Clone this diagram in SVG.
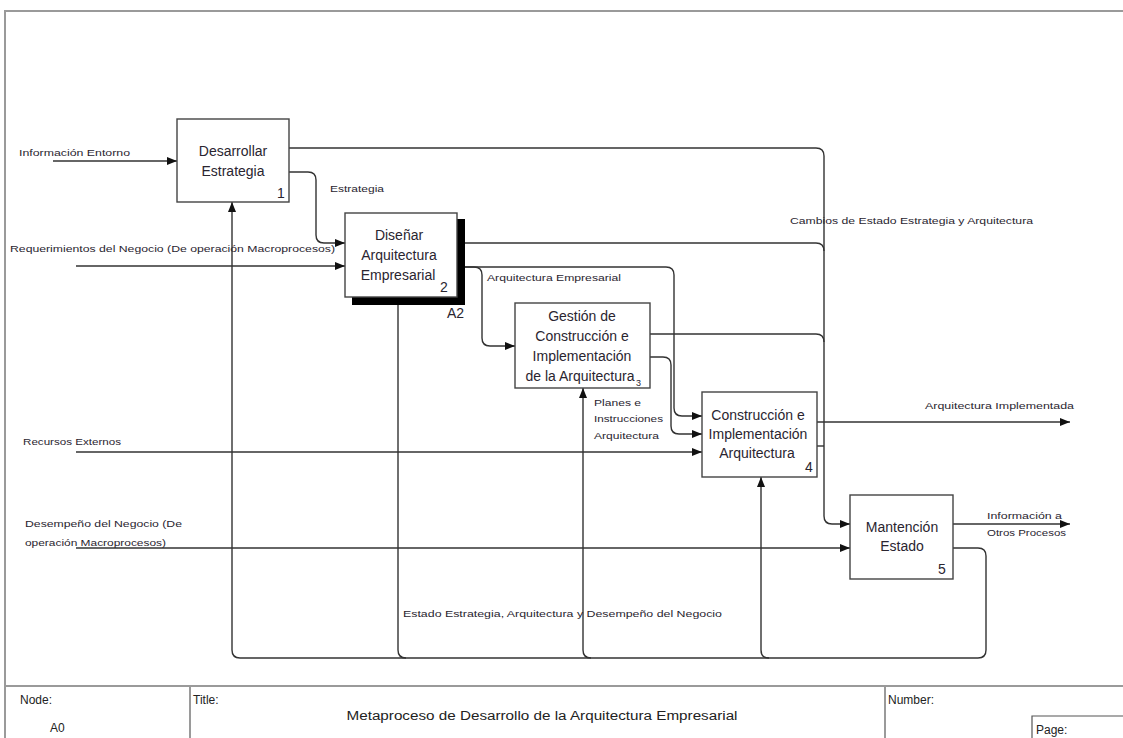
<svg xmlns="http://www.w3.org/2000/svg" width="1123" height="738" viewBox="0 0 1123 738">
  <defs>
    <marker id="arrow" viewBox="0 0 10 8" refX="10" refY="4" markerWidth="10" markerHeight="8" markerUnits="userSpaceOnUse" orient="auto">
      <path d="M0,0 L10,4 L0,8 Z" fill="#111"/>
    </marker>
    <style>
      .frame { fill: none; stroke: #9a9a9a; stroke-width: 2; }
      .box { fill: #fff; stroke: #444; stroke-width: 1.4; }
      .shadow { fill: #000; }
      .label { font-family: "Liberation Sans", Arial, sans-serif; font-size: 14px; fill: #2a2530; text-anchor: middle; }
      .num { font-family: "Liberation Sans", Arial, sans-serif; font-size: 14px; fill: #2a2530; }
      .small { font-family: "Liberation Sans", Arial, sans-serif; font-size: 9.5px; fill: #2a2530; }
      .tb { font-family: "Liberation Sans", Arial, sans-serif; font-size: 12px; fill: #222; }
      .conn { fill: none; stroke: #333; stroke-width: 1.4; }
      .arr { marker-end: url(#arrow); }
    </style>
  </defs>

  <rect width="1123" height="738" fill="#fff"/>

  <!-- outer frame -->
  <g id="frame">
    <path class="frame" d="M5,738 V11 H1123"/>
  </g>

  <!-- connectors -->
  <g id="connectors">
    <path class="conn arr" d="M53,161 H177"/>
    <path class="conn arr" d="M76,266 H345"/>
    <path class="conn arr" d="M289,172 H308 Q316,172 316,180 V235 Q316,243 324,243 H345"/>
    <path class="conn arr" d="M289,148 H816 Q824,148 824,156 V516 Q824,524 832,524 H850"/>
    <path class="conn" d="M465,243 H816 Q824,243 824,251"/>
    <path class="conn arr" d="M465,267 H666 Q674,267 674,275 V408 Q674,416 682,416 H702"/>
    <path class="conn arr" d="M465,267 H474 Q482,267 482,275 V338 Q482,346 490,346 H515"/>
    <path class="conn" d="M650,334 H816 Q824,334 824,342"/>
    <path class="conn arr" d="M650,357 H663 Q671,357 671,365 V426 Q671,434 679,434 H702"/>
    <path class="conn arr" d="M76,452 H702"/>
    <path class="conn arr" d="M817,422 H1070"/>
    <path class="conn" d="M817,446 H824"/>
    <path class="conn arr" d="M76,548 H850"/>
    <path class="conn arr" d="M953,524 H1070"/>
    <path class="conn arr" d="M953,548 H978 Q986,548 986,556 V650 Q986,658 978,658 H240 Q232,658 232,650 V202"/>
    <path class="conn" d="M398,305 V650 Q398,658 406,658"/>
    <path class="conn arr" d="M591,658 Q583,658 583,650 V388"/>
    <path class="conn arr" d="M769,658 Q761,658 761,650 V477"/>

    <text class="small" x="19" y="156" textLength="111" lengthAdjust="spacingAndGlyphs">Información Entorno</text>
    <text class="small" x="10" y="252" textLength="325" lengthAdjust="spacingAndGlyphs">Requerimientos del Negocio (De operación Macroprocesos)</text>
    <text class="small" x="330" y="192" textLength="54" lengthAdjust="spacingAndGlyphs">Estrategia</text>
    <text class="small" x="487" y="281" textLength="134" lengthAdjust="spacingAndGlyphs">Arquitectura Empresarial</text>
    <text class="small" x="790" y="224" textLength="243" lengthAdjust="spacingAndGlyphs">Cambios de Estado Estrategia y Arquitectura</text>
    <text class="small" x="594" y="406" textLength="47" lengthAdjust="spacingAndGlyphs">Planes e</text>
    <text class="small" x="594" y="422" textLength="69" lengthAdjust="spacingAndGlyphs">Instrucciones</text>
    <text class="small" x="594" y="439" textLength="65" lengthAdjust="spacingAndGlyphs">Arquitectura</text>
    <text class="small" x="925" y="409" textLength="149" lengthAdjust="spacingAndGlyphs">Arquitectura Implementada</text>
    <text class="small" x="987" y="519" textLength="75" lengthAdjust="spacingAndGlyphs">Información a</text>
    <text class="small" x="987" y="536" textLength="79" lengthAdjust="spacingAndGlyphs">Otros Procesos</text>
    <text class="small" x="23" y="445" textLength="98" lengthAdjust="spacingAndGlyphs">Recursos Externos</text>
    <text class="small" x="25" y="527" textLength="157" lengthAdjust="spacingAndGlyphs">Desempeño del Negocio (De</text>
    <text class="small" x="25" y="546" textLength="141" lengthAdjust="spacingAndGlyphs">operación Macroprocesos)</text>
    <text class="small" x="403" y="617" textLength="319" lengthAdjust="spacingAndGlyphs">Estado Estrategia, Arquitectura y Desempeño del Negocio</text>
  </g>

  <!-- activity 1 -->
  <g id="node1">
    <rect class="box" x="177" y="119" width="112" height="83"/>
    <text class="label" x="233" y="156">Desarrollar</text>
    <text class="label" x="233" y="176">Estrategia</text>
    <text class="num" x="277" y="198">1</text>
  </g>

  <!-- activity 2 (decomposed, with shadow) -->
  <g id="node2">
    <rect class="shadow" x="352" y="219" width="113" height="86"/>
    <rect class="box" x="345" y="213" width="112" height="84"/>
    <text class="label" x="399" y="240">Diseñar</text>
    <text class="label" x="399" y="260">Arquitectura</text>
    <text class="label" x="398" y="280">Empresarial</text>
    <text class="num" x="440" y="292">2</text>
    <text class="num" x="447" y="318">A2</text>
  </g>

  <!-- activity 3 -->
  <g id="node3">
    <rect class="box" x="515" y="303" width="135" height="85"/>
    <text class="label" x="582" y="321">Gestión de</text>
    <text class="label" x="582" y="341">Construcción e</text>
    <text class="label" x="582" y="361">Implementación</text>
    <text class="label" x="580" y="381">de la Arquitectura</text>
    <text class="num" x="636" y="386" style="font-size:9px">3</text>
  </g>

  <!-- activity 4 -->
  <g id="node4">
    <rect class="box" x="702" y="392" width="115" height="85"/>
    <text class="label" x="758" y="420">Construcción e</text>
    <text class="label" x="758" y="439">Implementación</text>
    <text class="label" x="757" y="458">Arquitectura</text>
    <text class="num" x="805" y="472">4</text>
  </g>

  <!-- activity 5 -->
  <g id="node5">
    <rect class="box" x="850" y="495" width="103" height="84"/>
    <text class="label" x="902" y="532">Mantención</text>
    <text class="label" x="902" y="551">Estado</text>
    <text class="num" x="938" y="574">5</text>
  </g>

  <!-- title block -->
  <g id="titleblock">
    <path class="frame" d="M5,686 H1123 M190,686 V738 M885,686 V738"/>
    <path d="M1032,738 V716 H1123" fill="none" stroke="#555" stroke-width="1.2"/>
    <text class="tb" x="20" y="704">Node:</text>
    <text class="tb" x="50" y="732">A0</text>
    <text class="tb" x="193" y="704">Title:</text>
    <text class="tb" x="542" y="720" text-anchor="middle" textLength="391" lengthAdjust="spacingAndGlyphs">Metaproceso de Desarrollo de la Arquitectura Empresarial</text>
    <text class="tb" x="888" y="704">Number:</text>
    <text class="tb" x="1036" y="734">Page:</text>
  </g>
</svg>
